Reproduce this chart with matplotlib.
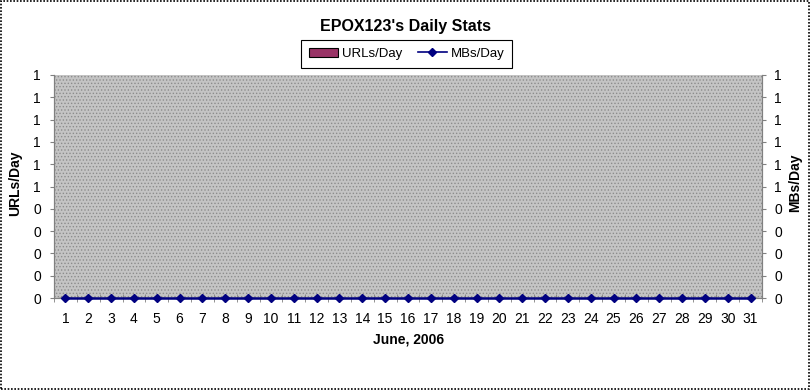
import matplotlib
matplotlib.use("Agg")
import matplotlib.pyplot as plt
from matplotlib.patches import Rectangle
from matplotlib.lines import Line2D
from matplotlib.ticker import FixedLocator

plt.rcParams['font.family'] = ['Liberation Sans', 'DejaVu Sans']

days = list(range(1, 32))
urls_per_day = [0] * 31
mbs_per_day = [0] * 31
ytick_values = [0.0, 0.1, 0.2, 0.3, 0.4, 0.5, 0.6, 0.7, 0.8, 0.9, 1.0]
ytick_labels = ["0", "0", "0", "0", "0", "1", "1", "1", "1", "1", "1"]

title = "EPOX123's Daily Stats"
xlabel = "June, 2006"

fig = plt.figure(figsize=(8.1, 3.9), dpi=100)
ax = fig.add_axes([54/810, 1-298/390, (762-54)/810, (298-75)/390])

plt.rcParams['hatch.color'] = '#8c8c8c'
plt.rcParams['hatch.linewidth'] = 0.6
ax.set_facecolor('#c4c4c4')
ax.add_patch(Rectangle((0, 0), 1, 1, transform=ax.transAxes, facecolor='none',
                       hatch='.....', edgecolor='#8c8c8c', linewidth=0, zorder=0))

ax.bar(days, urls_per_day, width=0.6, color='#993366', edgecolor='black', zorder=2)
ax.set_xlim(0.5, 31.5)
ax.set_ylim(0, 1)
ax.set_xticks(days)
ax.set_xticklabels([str(d) for d in days], fontsize=10)
ax.tick_params(axis='x', which='major', length=0, pad=10)
ax.xaxis.set_minor_locator(FixedLocator([d + 0.5 for d in [0] + days]))
ax.tick_params(axis='x', which='minor', direction='inout', length=5.5, color='#808080')
ax.set_yticks(ytick_values)
ax.set_yticklabels(ytick_labels, fontsize=10)
ax.tick_params(axis='y', direction='out', length=3, color='#808080', pad=6.3)

ax.spines['top'].set_visible(False)
for s in ['left', 'bottom', 'right']:
    ax.spines[s].set_color('#808080')

ax2 = ax.twinx()
ax2.plot(days, mbs_per_day, color='#000080', marker='D', markersize=4.5,
         linewidth=1.8, zorder=5, clip_on=False)
ax2.set_ylim(0, 1)
ax2.set_yticks(ytick_values)
ax2.set_yticklabels(ytick_labels, fontsize=10)
ax2.tick_params(axis='y', direction='out', length=3, color='#808080', pad=6)
ax2.spines['top'].set_visible(False)
for s in ['left', 'bottom', 'right']:
    ax2.spines[s].set_color('#808080')

fig.text(15/810, 1-183/390, "URLs/Day", rotation=90, ha='center', va='center',
         fontsize=10, fontweight='bold')
fig.text(795/810, 1-183/390, "MBs/Day", rotation=90, ha='center', va='center',
         fontsize=10, fontweight='bold')

fig.text(0.5, 1-27/390, title, ha='center', va='center', fontsize=11.5, fontweight='bold')
fig.text(409/810, 1-340/390, xlabel, ha='center', va='center', fontsize=10, fontweight='bold')

handles = [Rectangle((0, 0), 1, 1, facecolor='#993366', edgecolor='black', linewidth=0.8),
           Line2D([], [], color='#000080', marker='D', markersize=4, linewidth=1.2)]
leg = fig.legend(handles, ["URLs/Day", "MBs/Day"], loc='center',
                 bbox_to_anchor=(406.5/810, 1-54/390), ncol=2, fontsize=9.5,
                 frameon=True, fancybox=False, edgecolor='black', framealpha=1,
                 handlelength=2.2, handletextpad=0.3, columnspacing=1.2,
                 borderpad=0.6)
leg.get_frame().set_linewidth(0.8)

fig.add_artist(Rectangle((1/810, 1/390), 1-2/810, 1-2/390, transform=fig.transFigure,
                         facecolor='none', edgecolor='black', linestyle=(0, (1, 1)), linewidth=1.2))

fig.savefig("out.png", dpi=100)
